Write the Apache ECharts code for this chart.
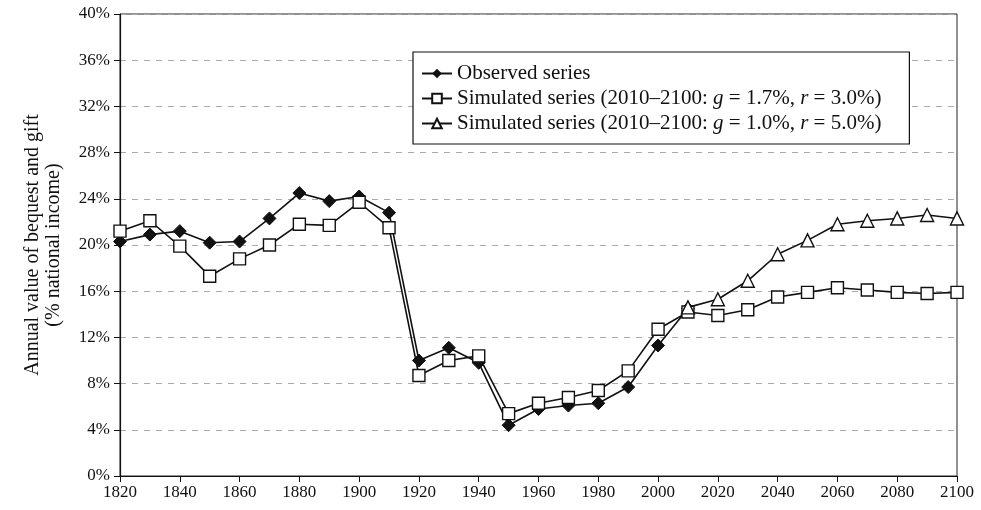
<!DOCTYPE html>
<html>
<head>
<meta charset="utf-8">
<script src="https://cdn.jsdelivr.net/npm/echarts@6/dist/echarts.min.js"></script>
<style>
  html, body { margin: 0; padding: 0; background: #fff; }
  #chart { width: 981px; height: 510px; }
</style>
</head>
<body>
<div id="chart"></div>
<script>
const years = [1820, 1830, 1840, 1850, 1860, 1870, 1880, 1890, 1900, 1910,
  1920, 1930, 1940, 1950, 1960, 1970, 1980, 1990, 2000, 2010,
  2020, 2030, 2040, 2050, 2060, 2070, 2080, 2090, 2100]

const observed = [20.3, 20.9, 21.2, 20.2, 20.3, 22.3, 24.5, 23.8, 24.2, 22.8,
  10.0, 11.1, 9.8, 4.4, 5.8, 6.1, 6.3, 7.7, 11.3, 14.5]

const simulatedA = [21.2, 22.1, 19.9, 17.3, 18.8, 20.0, 21.8, 21.7, 23.7, 21.5,
  8.7, 10.0, 10.4, 5.4, 6.3, 6.8, 7.4, 9.1, 12.7, 14.2,
  13.9, 14.4, 15.5, 15.9, 16.3, 16.1, 15.9, 15.8, 15.9]

const simulatedBYears = [2010, 2020, 2030, 2040, 2050, 2060, 2070, 2080, 2090, 2100]
const simulatedB = [14.6, 15.3, 16.9, 19.2, 20.4, 21.8, 22.1, 22.3, 22.6, 22.3]

const seriesNames = [
  'Observed series',
  'Simulated series (2010–2100: g = 1.7%, r = 3.0%)',
  'Simulated series (2010–2100: g = 1.0%, r = 5.0%)',
]

const serif = 'Liberation Serif'

function pairs(xs, ys) {
  return ys.map((v, i) => [xs[i], v])
}

function legendText(name) {
  // italic g and r like the printed figure
  return name.replace(/(: )g( =)/, '$1{i|g}$2').replace(/, r( =)/, ', {i|r}$1')
}

const chart = echarts.init(document.getElementById('chart'))

chart.setOption({
  animation: false,
  textStyle: { fontFamily: serif, color: '#111' },
  grid: {
    left: 120,
    right: 24,
    top: 14,
    bottom: 34,
    show: true,
    borderColor: '#222',
    borderWidth: 1,
  },
  legend: {
    orient: 'vertical',
    left: 413,
    top: 52,
    padding: [11, 28, 10, 8],
    itemGap: 4,
    itemWidth: 30,
    itemHeight: 12,
    borderColor: '#111',
    borderWidth: 1.2,
    backgroundColor: '#fff',
    data: seriesNames,
    formatter: legendText,
    textStyle: {
      fontFamily: serif,
      fontSize: 21,
      color: '#111',
      rich: {
        i: { fontFamily: serif, fontSize: 21, fontStyle: 'italic', color: '#111' },
      },
    },
  },
  xAxis: {
    type: 'value',
    min: 1820,
    max: 2100,
    interval: 20,
    axisLine: { lineStyle: { color: '#111', width: 1.2 } },
    axisTick: { inside: false, length: 6, lineStyle: { color: '#111' } },
    axisLabel: {
      formatter: v => String(v),
      fontFamily: serif,
      fontSize: 17,
      color: '#111',
      margin: 8,
    },
    splitLine: { show: false },
  },
  yAxis: {
    type: 'value',
    min: 0,
    max: 40,
    interval: 4,
    name: 'Annual value of bequest and gift\n(% national income)',
    nameLocation: 'middle',
    nameRotate: 90,
    nameGap: 56,
    nameTextStyle: { fontFamily: serif, fontSize: 20, color: '#111', lineHeight: 21 },
    axisLine: { show: true, lineStyle: { color: '#111', width: 1.2 } },
    axisTick: { show: true, length: 6, lineStyle: { color: '#111' } },
    axisLabel: {
      formatter: '{value}%',
      fontFamily: serif,
      fontSize: 17,
      color: '#111',
      margin: 10,
    },
    splitLine: {
      show: true,
      lineStyle: { color: '#aaa', type: [6, 6], width: 1 },
    },
  },
  series: [
    {
      name: seriesNames[0],
      type: 'line',
      data: pairs(years, observed),
      symbol: 'diamond',
      symbolSize: 13,
      lineStyle: { color: '#111', width: 1.6 },
      itemStyle: { color: '#111', borderColor: '#111' },
      z: 2,
    },
    {
      name: seriesNames[1],
      type: 'line',
      data: pairs(years, simulatedA),
      symbol: 'rect',
      symbolSize: 12,
      showAllSymbol: true,
      lineStyle: { color: '#111', width: 1.6 },
      itemStyle: { color: '#fff', borderColor: '#111', borderWidth: 1.4 },
      z: 3,
    },
    {
      name: seriesNames[2],
      type: 'line',
      data: pairs(simulatedBYears, simulatedB),
      symbol: 'triangle',
      symbolSize: 13,
      lineStyle: { color: '#111', width: 1.6 },
      itemStyle: { color: '#fff', borderColor: '#111', borderWidth: 1.4 },
      z: 4,
    },
  ],
})
</script>
</body>
</html>
